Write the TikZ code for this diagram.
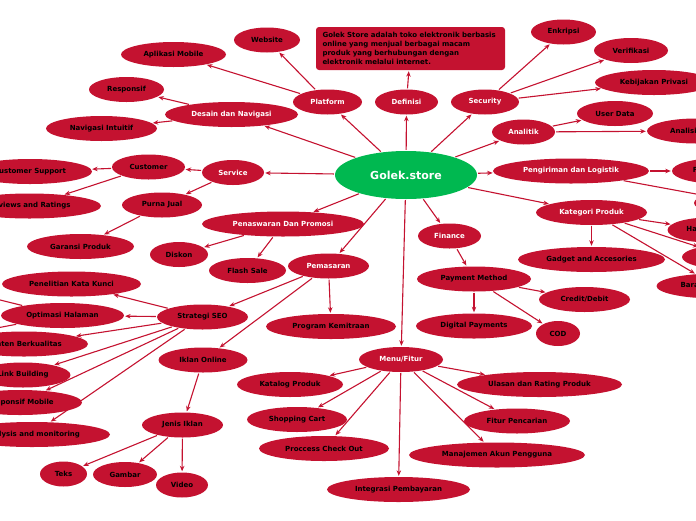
\documentclass[tikz,border=0pt]{standalone}
\usepackage{fontspec}
\setmainfont{DejaVu Sans}
\usetikzlibrary{shapes.geometric, arrows.meta}
\definecolor{golekred}{RGB}{196, 18, 48}
\definecolor{golekgreen}{RGB}{0, 184, 80}
\pgfdeclarelayer{background}
\pgfsetlayers{background,main}
\tikzset{
  bubble/.style={
    ellipse,
    fill=golekred,
    inner sep=0pt,
    minimum height=25pt,
    font=\bfseries\fontsize{7}{8.5}\selectfont
  },
  topic/.style={bubble, text=white},
  leaf/.style={bubble, text=black},
  root/.style={
    ellipse,
    fill=golekgreen,
    inner sep=0pt,
    minimum width=142pt,
    minimum height=48pt,
    text=white,
    font=\bfseries\fontsize{11}{13}\selectfont
  },
  note/.style={
    rectangle,
    rounded corners=3pt,
    fill=golekred,
    text=black,
    text width=176pt,
    align=left,
    inner xsep=6.5pt,
    minimum height=43pt,
    font=\bfseries\fontsize{7}{8.9}\selectfont
  },
  every edge/.style={
    draw=golekred,
    line width=1.1pt,
    -{Stealth[length=5.5pt,width=4.5pt]},
    shorten >=1pt,
    shorten <=1pt
  }
}

\begin{document}
\begin{tikzpicture}[x=1pt, y=-1pt]
  \useasboundingbox (0,0) rectangle (696,520);
  \clip (0,0) rectangle (696,520);

  \node[root] (root) at (406,175) {Golek.store};

  \node[topic, minimum width=69] (plat) at (327.5,102) {Platform};
  \node[topic, minimum width=63] (def) at (406.5,102) {Definisi};
  \node[topic, minimum width=68] (sec) at (485,102) {Security};
  \node[topic, minimum width=63] (anl) at (523.5,132) {Analitik};
  \node[topic, minimum width=156] (kirim) at (571,171) {Pengiriman dan Logistik};
  \node[topic, minimum width=111] (kat) at (591.5,212.5) {Kategori Produk};
  \node[topic, minimum width=63] (fin) at (449.5,236) {Finance};
  \node[topic, minimum width=84] (menu) at (401,359.5) {Menu/Fitur};
  \node[topic, minimum width=81] (pasar) at (328.5,266) {Pemasaran};
  \node[topic, minimum width=162] (promo) at (283,224) {Penaswaran Dan Promosi};
  \node[topic, minimum width=62] (serv) at (233,172.5) {Service};
  \node[topic, minimum width=133] (desain) at (231.5,114.5) {Desain dan Navigasi};

  \node[note] (info) at (410.5,48.5) {Golek Store adalah toko elektronik berbasis\\
    online yang menjual berbagai macam\\
    produk yang berhubungan dengan\\
    elektronik melalui internet.};

  \node[leaf, minimum width=66] (web) at (267,40) {Website};
  \node[leaf, minimum width=105] (mobile) at (173.5,54.5) {Aplikasi Mobile};
  \node[leaf, minimum width=75] (resp) at (126.5,89.5) {Responsif};
  \node[leaf, minimum width=111] (navi) at (101.5,128.5) {Navigasi Intuitif};

  \node[leaf, minimum width=65] (enk) at (563.5,32) {Enkripsi};
  \node[leaf, minimum width=74] (ver) at (631,50.5) {Verifikasi};
  \node[leaf, minimum width=118] (priv) at (654,82.5) {Kebijakan Privasi};
  \node[leaf, minimum width=76] (udata) at (615,113.5) {User Data};
  \node[leaf, minimum width=98] (adata) at (696,131) {Analisis Data};

  \node[leaf, minimum width=88] (ongkir) at (716,171) {Free Ongkir};
  \node[leaf, minimum width=102] (kirimb) at (745,203) {};
  \node[leaf, minimum width=147] (gadget) at (591.5,259.5) {Gadget and Accesories};
  \node[leaf, minimum width=83] (hp) at (709,230) {Handphone};
  \node[leaf, minimum width=96] (katc) at (730,257) {};
  \node[leaf, minimum width=119] (barang) at (716,286) {Barang Elektronik};

  \node[leaf, minimum width=114] (pay) at (474,279) {Payment Method};
  \node[leaf, minimum width=91] (credit) at (584.5,299.5) {Credit/Debit};
  \node[leaf, minimum width=116] (digital) at (474,326) {Digital Payments};
  \node[leaf, minimum width=44] (cod) at (558,333.5) {COD};

  \node[leaf, minimum width=106] (katalog) at (290,384.5) {Katalog Produk};
  \node[leaf, minimum width=100] (cart) at (297,419.5) {Shopping Cart};
  \node[leaf, minimum width=130] (checkout) at (324,448.5) {Proccess Check Out};
  \node[leaf, minimum width=143] (integ) at (398.5,489.5) {Integrasi Pembayaran};
  \node[leaf, minimum width=176] (akun) at (497,455) {Manajemen Akun Pengguna};
  \node[leaf, minimum width=106] (cari) at (517,421) {Fitur Pencarian};
  \node[leaf, minimum width=165] (ulasan) at (539.5,384.5) {Ulasan dan Rating Produk};

  \node[leaf, minimum width=130] (mitra) at (331,326.5) {Program Kemitraan};
  \node[leaf, minimum width=91] (seo) at (202.5,317) {Strategi SEO};
  \node[leaf, minimum width=89] (iklan) at (203,360) {Iklan Online};
  \node[leaf, minimum width=81] (jenis) at (182.5,425) {Jenis Iklan};
  \node[leaf, minimum width=47] (teks) at (63.5,474) {Teks};
  \node[leaf, minimum width=64] (gambar) at (125,474.5) {Gambar};
  \node[leaf, minimum width=52] (video) at (182,485) {Video};

  \node[leaf, minimum width=139] (kunci) at (71.5,284) {Penelitian Kata Kunci};
  \node[leaf, minimum width=123] (halaman) at (62.5,315.5) {Optimasi Halaman};
  \node[leaf, minimum width=128] (konten) at (24,344) {Konten Berkualitas};
  \node[leaf, minimum width=95] (link) at (23,375) {Link Building};
  \node[leaf, minimum width=124] (rmobile) at (20,402.5) {Responsif Mobile};
  \node[leaf, minimum width=156] (monitor) at (32,434.5) {Analysis and monitoring};
  \coordinate (hala) at (-40,290);
  \coordinate (halb) at (-40,335);

  \node[leaf, minimum width=73] (cust) at (148.5,167) {Customer};
  \node[leaf, minimum width=80] (purna) at (162,205) {Purna Jual};
  \node[leaf, minimum width=124] (support) at (30,171.5) {Customer Support};
  \node[leaf, minimum width=143] (review) at (29.5,206) {Reviews and Ratings};
  \node[leaf, minimum width=107] (garansi) at (80.5,246.5) {Garansi Produk};
  \node[leaf, minimum width=58] (diskon) at (179,254.5) {Diskon};
  \node[leaf, minimum width=77] (flash) at (247.5,270.5) {Flash Sale};

  \begin{pgfonlayer}{background}
    \path (root) edge (plat)
          (root) edge (def)
          (root) edge (sec)
          (root) edge (anl)
          (root) edge (kirim)
          (root) edge (kat)
          (root) edge (fin)
          (root) edge (menu)
          (root) edge (pasar)
          (root) edge (promo)
          (root) edge (serv)
          (root) edge (desain)
          (def) edge (info)
          (plat) edge (web)
          (plat) edge (mobile)
          (desain) edge (resp)
          (desain) edge (navi)
          (sec) edge (enk)
          (sec) edge (ver)
          (sec) edge (priv)
          (anl) edge (udata)
          (anl) edge (adata)
          (kirim) edge (ongkir)
          (kirim) edge (kirimb)
          (kat) edge (gadget)
          (kat) edge (hp)
          (kat) edge (katc)
          (kat) edge (barang)
          (fin) edge (pay)
          (pay) edge (credit)
          (pay) edge (digital)
          (pay) edge (cod)
          (menu) edge (katalog)
          (menu) edge (cart)
          (menu) edge (checkout)
          (menu) edge (integ)
          (menu) edge (akun)
          (menu) edge (cari)
          (menu) edge (ulasan)
          (pasar) edge (mitra)
          (pasar) edge (seo)
          (pasar) edge (iklan)
          (iklan) edge (jenis)
          (jenis) edge (teks)
          (jenis) edge (gambar)
          (jenis) edge (video)
          (seo) edge (kunci)
          (seo) edge (halaman)
          (seo) edge (konten)
          (seo) edge (link)
          (seo) edge (rmobile)
          (seo) edge (monitor)
          (halaman) edge (hala)
          (halaman) edge (halb)
          (serv) edge (cust)
          (serv) edge (purna)
          (cust) edge (support)
          (cust) edge (review)
          (purna) edge (garansi)
          (promo) edge (diskon)
          (promo) edge (flash);
  \end{pgfonlayer}
\end{tikzpicture}
\end{document}
